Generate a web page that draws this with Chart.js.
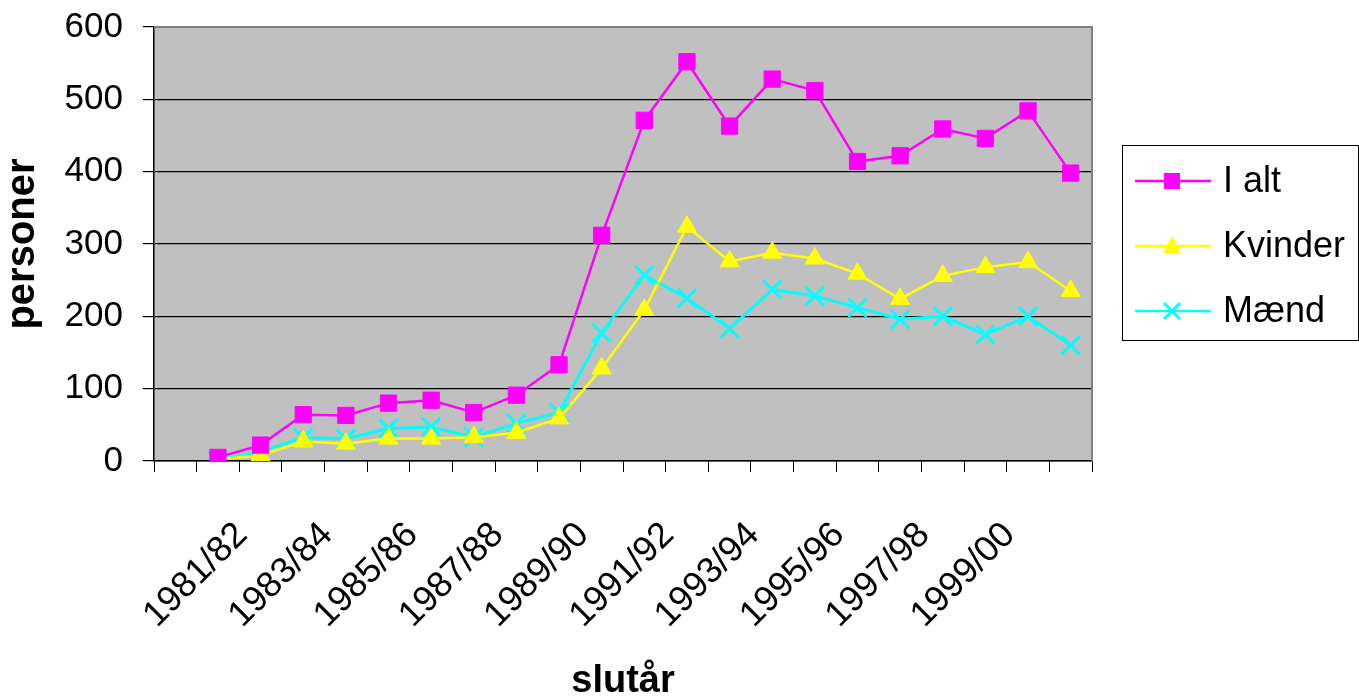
<!DOCTYPE html>
<html>
<head>
<meta charset="utf-8">
<script src="https://cdn.jsdelivr.net/npm/chart.js@4/dist/chart.umd.min.js"></script>
<style>
  html, body { margin: 0; padding: 0; background: #fff; }
  #wrap { width: 1359px; height: 699px; }
</style>
</head>
<body>
<div id="wrap"><canvas id="lineChart" width="1359" height="699"></canvas></div>
<script>
// school years (slutår)
var years = ['1980/81', '1981/82', '1982/83', '1983/84', '1984/85', '1985/86', '1986/87', '1987/88',
             '1988/89', '1989/90', '1990/91', '1991/92', '1992/93', '1993/94', '1994/95', '1995/96',
             '1996/97', '1997/98', '1998/99', '1999/00', '2000/01', '2001/02'];
// only every other year gets a label
var tickLabels = ['', '1981/82', '', '1983/84', '', '1985/86', '', '1987/88', '', '1989/90', '',
                  '1991/92', '', '1993/94', '', '1995/96', '', '1997/98', '', '1999/00', '', ''];

var iAlt    = [null, 5, 22, 64, 63, 80, 84, 67, 91, 133, 312, 471, 552, 463, 528, 512, 414, 422, 459, 446, 484, 398];
var kvinder = [null, 2, 8, 27, 24, 31, 31, 33, 39, 59, 128, 209, 324, 276, 288, 280, 259, 224, 256, 268, 275, 235];
var maend   = [null, 1, 13, 32, 31, 45, 47, 33, 52, 67, 177, 257, 225, 183, 237, 228, 212, 196, 200, 175, 200, 160];

var yTicks = [0, 100, 200, 300, 400, 500, 600];

var FONT = "'Liberation Sans', Arial, sans-serif";

var plotBg = {
    id: 'plotBg',
    beforeDraw: function (chart) {
        var a = chart.chartArea, c = chart.ctx;
        c.save();
        c.fillStyle = '#c0c0c0';
        c.fillRect(a.left, a.top, a.right - a.left, a.bottom - a.top);
        c.restore();
    },
    beforeDatasetsDraw: function (chart) {
        var a = chart.chartArea, c = chart.ctx;
        c.save();
        c.strokeStyle = '#808080';
        c.lineWidth = 2;
        c.beginPath();
        c.moveTo(a.left, a.top);
        c.lineTo(a.right, a.top);
        c.lineTo(a.right, a.bottom);
        c.stroke();
        c.restore();
    }
};

var boxLegend = {
    id: 'boxLegend',
    afterDraw: function (chart) {
        var c = chart.ctx;
        c.save();
        c.strokeStyle = '#000';
        c.lineWidth = 1;
        c.strokeRect(1122.5, 145.5, 236, 195);
        var rows = [181, 246, 311];
        chart.data.datasets.forEach(function (ds, i) {
            var y = rows[i];
            c.strokeStyle = ds.borderColor;
            c.fillStyle = ds.backgroundColor;
            c.lineWidth = 2.5;
            c.beginPath();
            c.moveTo(1135, y);
            c.lineTo(1211, y);
            c.stroke();
            var x = 1172;
            if (ds.pointStyle === 'rect') {
                c.fillRect(x - 8, y - 8, 16, 16);
            } else if (ds.pointStyle === 'triangle') {
                c.beginPath();
                c.moveTo(x, y - 10);
                c.lineTo(x + 9, y + 7);
                c.lineTo(x - 9, y + 7);
                c.closePath();
                c.fill();
            } else {
                c.lineWidth = 3;
                c.beginPath();
                c.moveTo(x - 8, y - 8); c.lineTo(x + 8, y + 8);
                c.moveTo(x + 8, y - 8); c.lineTo(x - 8, y + 8);
                c.stroke();
            }
            c.fillStyle = '#000';
            c.font = '36px ' + FONT;
            c.textBaseline = 'middle';
            c.textAlign = 'left';
            c.fillText(ds.label, 1223, y + 1);
        });
        c.restore();
    }
};

var ctx = document.getElementById('lineChart').getContext('2d');
var myChart = new Chart(ctx, {
    type: 'line',
    data: {
        labels: years,
        datasets: [{
            label: 'I alt',
            data: iAlt,
            borderColor: '#ff00ff',
            backgroundColor: '#ff00ff',
            borderWidth: 2.5,
            pointStyle: 'rect',
            pointRadius: 11.5,
            pointBorderWidth: 1,
            tension: 0
        }, {
            label: 'Kvinder',
            data: kvinder,
            borderColor: '#ffff00',
            backgroundColor: '#ffff00',
            borderWidth: 2.5,
            pointStyle: 'triangle',
            pointRadius: 11,
            pointBorderWidth: 1,
            tension: 0
        }, {
            label: 'Mænd',
            data: maend,
            borderColor: '#00ffff',
            backgroundColor: '#00ffff',
            borderWidth: 3,
            pointStyle: 'crossRot',
            pointRadius: 13,
            pointBorderWidth: 3,
            tension: 0
        }]
    },
    options: {
        responsive: false,
        animation: false,
        layout: { padding: { top: 27, right: 267, left: 0, bottom: 0 } },
        plugins: {
            legend: { display: false },
            tooltip: { enabled: false }
        },
        scales: {
            x: {
                offset: true,
                grid: { display: true, drawOnChartArea: false, offset: true, tickLength: 11, tickColor: '#000', color: '#000' },
                border: { color: '#000', width: 1.5 },
                ticks: {
                    autoSkip: false,
                    maxRotation: 45,
                    minRotation: 45,
                    padding: 42,
                    labelOffset: 24,
                    color: '#000',
                    font: { family: FONT, size: 36 },
                    callback: function (v, i) { return tickLabels[i]; }
                },
                title: {
                    display: true,
                    text: 'slutår',
                    color: '#000',
                    font: { family: FONT, size: 38, weight: 'bold', lineHeight: 0.9 },
                    padding: { top: 0, bottom: 0 }
                },
                afterFit: function (s) {
                    s.height = 238;
                    s.paddingLeft = 0; s.paddingRight = 0; s.paddingTop = 0; s.paddingBottom = 0;
                }
            },
            y: {
                min: 0,
                max: 600,
                afterBuildTicks: function (s) { s.ticks = yTicks.map(function (v) { return { value: v }; }); },
                grid: {
                    color: function (c) { return c.tick && c.tick.value === 600 ? '#808080' : '#000'; },
                    lineWidth: 1.2,
                    tickLength: 11,
                    tickColor: '#000'
                },
                border: { color: '#000', width: 1.5 },
                ticks: {
                    padding: 20,
                    color: '#000',
                    font: { family: FONT, size: 35 }
                },
                title: {
                    display: true,
                    text: 'personer',
                    color: '#000',
                    font: { family: FONT, size: 40, weight: 'bold', lineHeight: 1 },
                    padding: { top: 3, bottom: 0 }
                },
                afterFit: function (s) {
                    s.width = 154;
                    s.paddingTop = 0; s.paddingBottom = 0; s.paddingLeft = 0; s.paddingRight = 0;
                }
            }
        }
    },
    plugins: [plotBg, boxLegend]
});
</script>
</body>
</html>
